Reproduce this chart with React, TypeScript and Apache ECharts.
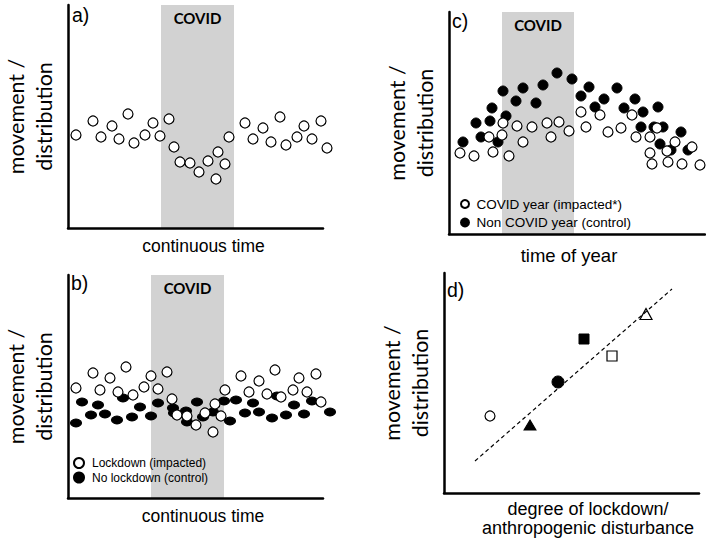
import React, { useEffect, useRef } from "react";
import * as echarts from "echarts";

// ---- Panel a: continuous time vs movement (impacted only)
const aImpacted: [number, number][] = [
  [8, 93], [25, 107], [33, 91], [44, 102], [51, 89], [60, 114], [66, 85], [77, 93], [85, 105], [92, 92],
  [101, 109], [106, 81], [112, 66], [122, 65], [131, 56], [140, 67], [148, 49], [150, 76], [157, 64], [161, 91],
  [177, 105], [185, 89], [195, 100], [203, 86], [212, 111], [218, 83], [229, 91], [236, 102], [244, 89], [253, 107], [259, 80],
];
const aCovid = [93, 166];
const aRange = [255, 223];

// ---- Panel b: lockdown vs no lockdown
const bImpacted: [number, number][] = [
  [8, 110], [25, 125], [32, 108], [42, 120], [50, 106], [58, 131], [65, 103], [76, 111], [83, 122], [90, 109],
  [99, 126], [104, 99], [109, 83], [119, 82], [128, 73], [137, 85], [145, 66], [147, 94], [153, 82], [157, 108],
  [173, 122], [181, 106], [191, 117], [199, 104], [207, 128], [213, 101], [225, 108], [231, 120], [239, 106], [248, 124], [253, 96],
];
const bControl: [number, number][] = [
  [8, 75], [14, 96], [23, 83], [30, 93], [37, 84], [49, 78], [55, 100], [64, 81], [72, 91], [83, 82],
  [90, 95], [105, 90], [106, 85], [118, 87], [119, 76], [129, 96], [135, 81], [145, 86], [156, 97], [162, 77],
  [168, 98], [177, 85], [185, 95], [191, 86], [204, 80], [209, 102], [218, 83], [226, 93], [236, 84], [244, 97], [262, 86],
];
const bCovid = [83, 156];
const bRange = [255, 223];

// ---- Panel c: time of year, COVID year vs non COVID year
const cImpacted: [number, number][] = [
  [11, 81], [25, 78], [40, 97], [44, 82], [53, 99], [54, 111], [60, 78], [68, 108], [74, 92], [83, 107],
  [98, 111], [102, 97], [110, 112], [120, 103], [132, 122], [137, 107], [151, 119], [159, 102], [172, 106], [183, 119],
  [187, 97], [201, 97], [201, 81], [203, 70], [208, 106], [218, 83], [219, 72], [226, 92], [233, 70], [243, 87], [251, 69],
];
const cControl: [number, number][] = [
  [14, 92], [27, 111], [43, 126], [41, 113], [32, 97], [49, 92], [54, 143], [57, 118], [67, 133], [74, 146],
  [87, 131], [94, 149], [108, 161], [123, 155], [132, 138], [140, 147], [146, 127], [155, 135], [168, 146], [175, 126],
  [186, 135], [194, 122], [192, 107], [209, 127], [205, 107], [214, 107], [211, 90], [222, 84], [232, 102], [239, 84],
];
const cCovid = [53, 125];
const cRange = [256, 222];

// ---- Panel d: degree of lockdown vs response
const dDegree = [46, 86, 114, 140, 168, 202];
const dResponse = [77, 68, 111, 154, 137, 179];
const dSymbols = ["circle", "triangle", "circle", "rect", "rect", "triangle"];
const dFilled = [false, true, true, true, false, false];
const dSizes: (number | number[])[] = [10, [12, 10], 12, 10, 10, [12, 11]];
const dTrend: [number, number][] = [[31, 32], [228, 204]];
const dRange = [255, 220];

const Y_NAME = "movement /\ndistribution";
const AXIS_LINE = { show: true, onZero: false, lineStyle: { color: "#000", width: 2.5 } };
const GREY = "#d2d2d2";

function xAxisFor(gi: number, max: number, name: string, gap: number, pad: number[], size = 17.5, lh = 18) {
  return {
    gridIndex: gi, type: "value", min: 0, max, z: 5,
    axisLine: AXIS_LINE, axisTick: { show: false }, axisLabel: { show: false }, splitLine: { show: false },
    name, nameLocation: "middle", nameGap: gap,
    nameTextStyle: { fontFamily: "Liberation Sans", fontSize: size, lineHeight: lh, color: "#000", padding: pad },
  };
}
function yAxisFor(gi: number, max: number) {
  return {
    gridIndex: gi, type: "value", min: 0, max, z: 5,
    axisLine: AXIS_LINE, axisTick: { show: false }, axisLabel: { show: false }, splitLine: { show: false },
    name: Y_NAME, nameLocation: "middle", nameGap: 10,
    nameTextStyle: { fontFamily: "Lato", fontSize: 21.5, lineHeight: 28, color: "#000" },
  };
}
function covidArea(range: number[]) {
  return {
    silent: true,
    itemStyle: { color: GREY, opacity: 1 },
    label: {
      show: true, position: "insideTop", distance: 5, formatter: "COVID",
      fontFamily: "Lato", fontWeight: "bold", fontSize: 15, color: "#000",
    },
    data: [[{ xAxis: range[0] }, { xAxis: range[1] }]],
  };
}
const openStyle = { color: "#fff", borderColor: "#000", borderWidth: 1.2, opacity: 1 };
const filledStyle = { color: "#000", borderColor: "#000", borderWidth: 1, opacity: 1 };
const PANEL_FONT = '19.5px "Liberation Sans"';

export default function App() {
  const ref = useRef<HTMLDivElement>(null);
  useEffect(() => {
    if (!ref.current) return;
    const chart = echarts.init(ref.current, undefined, { renderer: "svg" });
    const option: any = {
      animation: false,
      backgroundColor: "#fff",
      grid: [
        { left: 68, top: 5, width: aRange[0], height: aRange[1] },
        { left: 68, top: 275, width: bRange[0], height: bRange[1] },
        { left: 449, top: 12, width: cRange[0], height: cRange[1] },
        { left: 444, top: 273, width: dRange[0], height: dRange[1] },
      ],
      xAxis: [
        xAxisFor(0, aRange[0], "continuous time", 9, [0, 0, 0, 16]),
        xAxisFor(1, bRange[0], "continuous time", 9, [0, 0, 0, 15]),
        xAxisFor(2, cRange[0], "time of year", 12, [0, 16, 0, 0], 18.5),
        xAxisFor(3, dRange[0], "degree of lockdown/\nanthropogenic disturbance", 6, [0, 0, 0, 33], 18, 19),
      ],
      yAxis: [yAxisFor(0, aRange[1]), yAxisFor(1, bRange[1]), yAxisFor(2, cRange[1]), yAxisFor(3, dRange[1])],
      legend: [
        {
          data: ["Lockdown (impacted)", "No lockdown (control)"],
          orient: "vertical", left: 68, top: 452, itemWidth: 16, itemHeight: 10, itemGap: 2.5,
          icon: "circle", selectedMode: false,
          textStyle: { fontFamily: "Liberation Sans", fontSize: 12, lineHeight: 12, color: "#000" },
        },
        {
          data: ["COVID year (impacted*)", "Non COVID year (control)"],
          orient: "vertical", left: 455, top: 192, itemWidth: 13, itemHeight: 8, itemGap: 4.5,
          icon: "circle", selectedMode: false,
          textStyle: { fontFamily: "Liberation Sans", fontSize: 13.5, lineHeight: 14, color: "#000" },
        },
      ],
      graphic: [
        { type: "text", left: 72, top: 5, style: { text: "a)", font: PANEL_FONT, fill: "#000" } },
        { type: "text", left: 71, top: 273, style: { text: "b)", font: PANEL_FONT, fill: "#000" } },
        { type: "text", left: 452, top: 11, style: { text: "c)", font: PANEL_FONT, fill: "#000" } },
        { type: "text", left: 447, top: 280, style: { text: "d)", font: PANEL_FONT, fill: "#000" } },
      ],
      series: [
        {
          name: "a impacted", type: "scatter", xAxisIndex: 0, yAxisIndex: 0, data: aImpacted,
          symbol: "circle", symbolSize: 10, itemStyle: openStyle, clip: false, silent: true,
          markArea: covidArea(aCovid),
        },
        {
          name: "No lockdown (control)", type: "scatter", xAxisIndex: 1, yAxisIndex: 1, data: bControl,
          symbol: "circle", symbolSize: [11, 8], itemStyle: filledStyle, clip: false, silent: true,
          markArea: covidArea(bCovid),
        },
        {
          name: "Lockdown (impacted)", type: "scatter", xAxisIndex: 1, yAxisIndex: 1, data: bImpacted,
          symbol: "circle", symbolSize: 10, itemStyle: openStyle, clip: false, silent: true,
        },
        {
          name: "Non COVID year (control)", type: "scatter", xAxisIndex: 2, yAxisIndex: 2, data: cControl,
          symbol: "circle", symbolSize: 10, itemStyle: filledStyle, clip: false, silent: true,
          markArea: covidArea(cCovid),
        },
        {
          name: "COVID year (impacted*)", type: "scatter", xAxisIndex: 2, yAxisIndex: 2, data: cImpacted,
          symbol: "circle", symbolSize: 10, itemStyle: openStyle, clip: false, silent: true,
        },
        {
          name: "d trend", type: "line", xAxisIndex: 3, yAxisIndex: 3, data: dTrend, symbol: "none",
          lineStyle: { color: "#000", width: 1.2, type: [4, 3] }, silent: true,
        },
        {
          name: "d groups", type: "scatter", xAxisIndex: 3, yAxisIndex: 3, clip: false, silent: true,
          data: dDegree.map((x, i) => ({
            value: [x, dResponse[i]],
            symbol: dSymbols[i],
            symbolSize: dSizes[i],
            itemStyle: dFilled[i] ? filledStyle : openStyle,
          })),
        },
      ],
    };
    chart.setOption(option);
    return () => chart.dispose();
  }, []);
  return <div ref={ref} style={{ position: "absolute", left: 0, top: 0, width: 706, height: 541 }} />;
}
